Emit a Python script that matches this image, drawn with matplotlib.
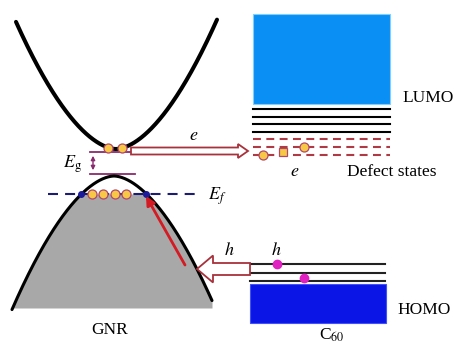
import numpy as np
import matplotlib.pyplot as plt
from matplotlib import patches

plt.rcParams['font.family'] = ['Liberation Serif', 'DejaVu Serif']
plt.rcParams['mathtext.fontset'] = 'stix'

# band shapes (pixel coords, y grows downward): y = vertex +- a*|x - x0|**p
cb_vertex = (116, 149)
vb_vertex = (114, 176)
cb_a, vb_a, band_p = 0.0402, 0.0408, 1.75
cb_span = (16, 217)
vb_span = (12, 212)
vb_bottom = 308
fermi_y = 194
fermi_span = (48, 200)

# carriers
cb_electrons_x = [108, 122]
cb_electrons_y = [148, 148]
ef_electrons_x = [92, 103, 115, 126]
ef_crossings_x = [81, 146]
defect_e_x = [263, 304]
defect_e_y = [155, 147]
defect_sq_x = [283]
defect_sq_y = [152]
holes_x = [277, 304]
holes_y = [264, 278]

# C60 levels
lumo_box = (253, 14, 390, 104)
lumo_lines_y = [109, 117, 124, 132]
defect_lines_y = [139, 147, 155]
homo_lines_y = [264, 273, 281]
homo_box = (250, 284, 386, 323)

fig = plt.figure(figsize=(4.59, 3.45), dpi=100)
ax = fig.add_axes([0, 0, 1, 1])
ax.set_xlim(0, 459)
ax.set_ylim(345, 0)
ax.axis('off')

# conduction band
x = np.linspace(cb_span[0], cb_span[1], 400)
ax.plot(x, cb_vertex[1] - cb_a * np.abs(x - cb_vertex[0]) ** band_p, color='black',
        lw=2.9, solid_capstyle='round', zorder=3)

# valence band, grey below Fermi level
x = np.linspace(vb_span[0], vb_span[1], 400)
y = vb_vertex[1] + vb_a * np.abs(x - vb_vertex[0]) ** band_p
ax.fill_between(x, np.clip(y, fermi_y, vb_bottom), vb_bottom, color='#a8a8a8', lw=0,
                zorder=1)
ax.plot(x, y, color='black', lw=2.2, solid_capstyle='round', zorder=3)

# Fermi level
ax.plot(fermi_span, [fermi_y, fermi_y], color='#1c1c72', lw=1.5,
        dashes=(4.8, 3.4), zorder=2)
ax.plot(ef_crossings_x, [fermi_y] * 2, 'o', color='#1c1c9a', ms=4, zorder=4)
ax.text(208, 200, r'$E_f$', fontsize=13, ha='left', va='baseline')

# electrons in GNR
dot = dict(marker='o', ls='', ms=6.5, mfc='#f7c845', mec='#b0486a', mew=0.9, zorder=5)
ax.plot(cb_electrons_x, cb_electrons_y, **dot)
ax.plot(ef_electrons_x, [fermi_y] * 4, **dot)

# band gap
eg_col = '#8a2a6e'
ax.plot([90, 131], [152, 152], color=eg_col, lw=1.3, zorder=2)
ax.plot([90, 135], [174, 174], color=eg_col, lw=1.3, zorder=2)
ax.annotate('', xy=(93, 153), xytext=(93, 173),
            arrowprops=dict(arrowstyle='<|-|>', color=eg_col, lw=1, mutation_scale=6))
ax.text(63, 168, r'$E_\mathrm{g}$', fontsize=13, ha='left', va='baseline')

# hollow transfer arrows
arr_col = '#a8323c'
ax.add_patch(patches.FancyArrow(131, 151, 117, 0, width=7, head_width=14, head_length=10,
                                length_includes_head=True, fc='white', ec=arr_col,
                                lw=1.3, zorder=4))
ax.text(194, 140, r'$e$', fontsize=13, ha='center', va='baseline')
ax.add_patch(patches.FancyArrow(250, 269, -53, 0, width=12, head_width=27, head_length=16,
                                length_includes_head=True, fc='white', ec=arr_col,
                                lw=1.3, zorder=4))
ax.text(229, 255, r'$h$', fontsize=13, ha='center', va='baseline')
ax.text(276, 255, r'$h$', fontsize=13, ha='center', va='baseline')

# hole moving up in valence band
ax.annotate('', xy=(146, 196), xytext=(185, 265),
            arrowprops=dict(arrowstyle='-|>', color='#d41a22', lw=2, mutation_scale=13,
                            shrinkA=0, shrinkB=0), zorder=4)

# LUMO side
x0, y0, x1, y1 = lumo_box
ax.add_patch(patches.Rectangle((x0, y0), x1 - x0, y1 - y0, fc='#0a8ff5', ec='#7fd0ff',
                               lw=0.8, zorder=2))
for ly in lumo_lines_y:
    ax.plot([x0, x1], [ly, ly], color='black', lw=1.5, zorder=2)
for ly in defect_lines_y:
    ax.plot([x0, x1], [ly, ly], color='#b03a44', lw=1.5, dashes=(3.8, 2.6), zorder=2)
ax.plot(defect_e_x, defect_e_y, **dot)
ax.plot(defect_sq_x, defect_sq_y, **dict(dot, marker='s', ms=6))
ax.text(402, 102, 'LUMO', fontsize=12.5, ha='left', va='baseline')
ax.text(347, 176, 'Defect states', fontsize=12.5, ha='left', va='baseline')
ax.text(295, 176, r'$e$', fontsize=13, ha='center', va='baseline')

# HOMO side
x0, y0, x1, y1 = homo_box
for ly in homo_lines_y:
    ax.plot([x0, x1 - 1], [ly, ly], color='#222222', lw=1.5, zorder=2)
ax.add_patch(patches.Rectangle((x0, y0), x1 - x0, y1 - y0, fc='#0b16e6', ec='#4050ff',
                               lw=0.8, zorder=2))
ax.plot(holes_x, holes_y, 'o', ms=6, color='#e020c0', zorder=5)
ax.text(397, 314, 'HOMO', fontsize=12.5, ha='left', va='baseline')

ax.text(110, 334, 'GNR', fontsize=12.5, ha='center', va='baseline')
ax.text(332, 340, r'C$_{60}$', fontsize=12.5, ha='center', va='baseline')

fig.savefig('out.png', dpi=100)
